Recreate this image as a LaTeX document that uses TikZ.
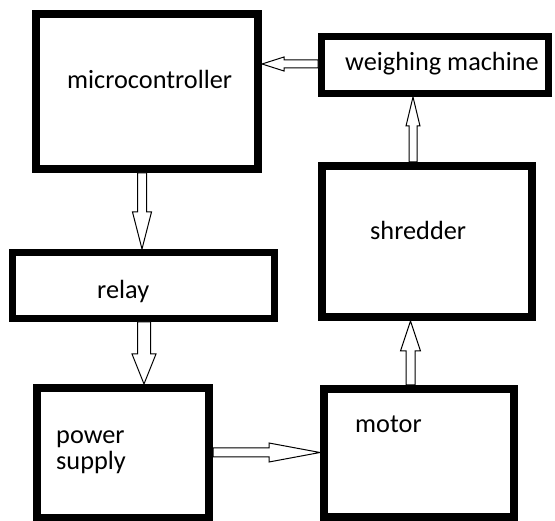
\documentclass[tikz,border=0pt]{standalone}
\usepackage{fontspec}
\setmainfont{Carlito}
\usetikzlibrary{calc}
\tikzset{
  blk/.style={draw=black, line width=#1, fill=white, inner sep=0pt},
  lbl/.style={anchor=base west, inner sep=0pt, text=black, font=\fontsize{26.3}{30}\selectfont},
  conn/.style={draw=black, line width=1pt, fill=white, line join=miter},
}
% start, tip, shaft half width, head half width, head length
\newcommand\hollowarrow[5]{%
  \coordinate (hh) at ($(#2)!#5!(#1)$);
  \draw[conn] ($(#1)!#3!90:(#2)$) -- ($(hh)!#3!90:(#2)$) -- ($(hh)!#4!90:(#2)$) -- (#2)
    -- ($(hh)!#4!-90:(#2)$) -- ($(hh)!#3!-90:(#2)$) -- ($(#1)!#3!-90:(#2)$) -- cycle;
}
\begin{document}
\begin{tikzpicture}[x=1pt,y=-1pt]
\useasboundingbox (0,0) rectangle (555,521);
% boxes
\node[blk=8pt, minimum width=222pt, minimum height=155pt] (mc) at (147,91.5) {};
\node[blk=7pt, minimum width=227pt, minimum height=57pt] (wm) at (435,65) {};
\node[blk=8pt, minimum width=210pt, minimum height=151pt] (sh) at (427,241.5) {};
\node[blk=7pt, minimum width=262pt, minimum height=66pt] (rl) at (143.5,285.5) {};
\node[blk=8pt, minimum width=172pt, minimum height=130pt] (ps) at (123,453) {};
\node[blk=8pt, minimum width=190pt, minimum height=128pt] (mt) at (419,453) {};
% labels
\node[lbl] (tmc) at (67,89) {microcontroller};
\node[lbl] (twm) at (345,71) {weighing machine};
\node[lbl] (tsh) at (370,240) {shredder};
\node[lbl] (trl) at (97,299) {relay};
\node[lbl] (tps1) at (56,444) {power};
\node[lbl] (tps2) at (56,470) {supply};
\node[lbl] (tmt) at (355,433) {motor};
% connector guides
\coordinate (g1) at (0,64);
\coordinate (g2) at (413,0);
\coordinate (g3) at (142,0);
\coordinate (g4) at (144,0);
\coordinate (g5) at (0,452.5);
\coordinate (g6) at (410.5,0);
\coordinate (a1s) at (wm.west |- g1);  \coordinate (a1t) at (mc.east |- g1);
\coordinate (a2s) at (g2 |- sh.north); \coordinate (a2t) at (g2 |- wm.south);
\coordinate (a3s) at (g3 |- mc.south); \coordinate (a3t) at (g3 |- rl.north);
\coordinate (a4s) at (g4 |- rl.south); \coordinate (a4t) at (g4 |- ps.north);
\coordinate (a5s) at (ps.east |- g5);  \coordinate (a5t) at (mt.west |- g5);
\coordinate (a6s) at (g6 |- mt.north); \coordinate (a6t) at (g6 |- sh.south);
% connectors
\hollowarrow{a1s}{a1t}{4pt}{7pt}{22pt}
\hollowarrow{a2s}{a2t}{4pt}{7pt}{29pt}
\hollowarrow{a3s}{a3t}{4.5pt}{9.5pt}{37pt}
\hollowarrow{a4s}{a4t}{6.5pt}{12pt}{30pt}
\hollowarrow{a5s}{a5t}{4.5pt}{9.5pt}{51pt}
\hollowarrow{a6s}{a6t}{4.5pt}{10pt}{30pt}
\end{tikzpicture}
\end{document}
